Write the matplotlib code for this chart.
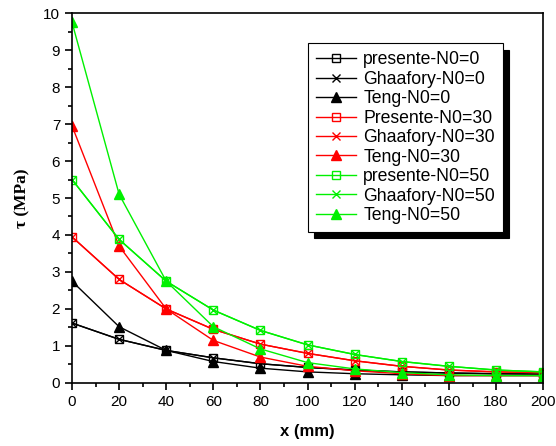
import matplotlib.pyplot as plt
from matplotlib.ticker import MultipleLocator

plt.rcParams['font.family'] = ['Liberation Sans', 'DejaVu Sans']

x = [0, 20, 40, 60, 80, 100, 120, 140, 160, 180, 200]

pres_0 = [1.62, 1.18, 0.88, 0.68, 0.52, 0.42, 0.35, 0.30, 0.27, 0.25, 0.24]
ghaa_0 = [1.62, 1.18, 0.88, 0.68, 0.52, 0.42, 0.35, 0.30, 0.27, 0.25, 0.24]
teng_0 = [2.75, 1.52, 0.88, 0.58, 0.40, 0.30, 0.25, 0.22, 0.20, 0.20, 0.20]

pres_30 = [3.95, 2.80, 2.00, 1.45, 1.05, 0.80, 0.60, 0.45, 0.35, 0.30, 0.28]
ghaa_30 = [3.95, 2.80, 2.00, 1.45, 1.05, 0.80, 0.60, 0.45, 0.35, 0.30, 0.28]
teng_30 = [6.95, 3.70, 2.00, 1.15, 0.70, 0.45, 0.33, 0.25, 0.20, 0.20, 0.20]

pres_50 = [5.50, 3.88, 2.75, 1.97, 1.42, 1.03, 0.77, 0.58, 0.45, 0.35, 0.30]
ghaa_50 = [5.50, 3.88, 2.75, 1.97, 1.42, 1.03, 0.77, 0.58, 0.45, 0.35, 0.30]
teng_50 = [9.75, 5.10, 2.75, 1.52, 0.92, 0.55, 0.38, 0.28, 0.22, 0.20, 0.20]

labels = ['presente-N0=0', 'Ghaafory-N0=0', 'Teng-N0=0',
          'Presente-N0=30', 'Ghaafory-N0=30', 'Teng-N0=30',
          'presente-N0=50', 'Ghaafory-N0=50', 'Teng-N0=50']
series = [pres_0, ghaa_0, teng_0, pres_30, ghaa_30, teng_30, pres_50, ghaa_50, teng_50]
colors = ['black'] * 3 + ['#ff0000'] * 3 + ['#00f000'] * 3

fig = plt.figure(figsize=(5.56, 4.46), dpi=100)
ax = fig.add_axes([0.1295, 0.1413, 0.8475, 0.8295])

for i, (y, lab, c) in enumerate(zip(series, labels, colors)):
    kind = i % 3
    if kind == 0:
        ax.plot(x, y, color=c, lw=1, marker='s', ms=5.5, mfc='none', mec=c, mew=1, label=lab)
    elif kind == 1:
        ax.plot(x, y, color=c, lw=1, marker='x', ms=5.5, mec=c, mew=1, label=lab)
    else:
        ax.plot(x, y, color=c, lw=1, marker='^', ms=7.5, mfc=c, mec=c, label=lab)

ax.set_xlim(0, 200)
ax.set_ylim(0, 10)
ax.xaxis.set_major_locator(MultipleLocator(20))
ax.xaxis.set_minor_locator(MultipleLocator(10))
ax.yaxis.set_major_locator(MultipleLocator(1))
ax.yaxis.set_minor_locator(MultipleLocator(0.5))
ax.tick_params(which='major', length=5, width=1.2, labelsize=11)
ax.tick_params(which='minor', length=3, width=1.2)
for s in ax.spines.values():
    s.set_linewidth(1.2)

ax.set_xlabel('x (mm)', fontsize=12, fontweight='bold', labelpad=11)
ax.set_ylabel('τ (MPa)', fontsize=12.5, fontweight='bold', labelpad=9,
              family=['Liberation Serif', 'DejaVu Serif'])

leg = ax.legend(loc='upper left', bbox_to_anchor=(0.5, 0.918), fontsize=12.7,
                frameon=True, fancybox=False, edgecolor='black',
                shadow={'ox': 4.5, 'oy': -4.5, 'color': 'black', 'alpha': 1},
                handlelength=2.3, handletextpad=0.4, labelspacing=0.14,
                borderpad=0.45, borderaxespad=0)
leg.get_frame().set_linewidth(0.8)

fig.savefig('out.png', dpi=100)
